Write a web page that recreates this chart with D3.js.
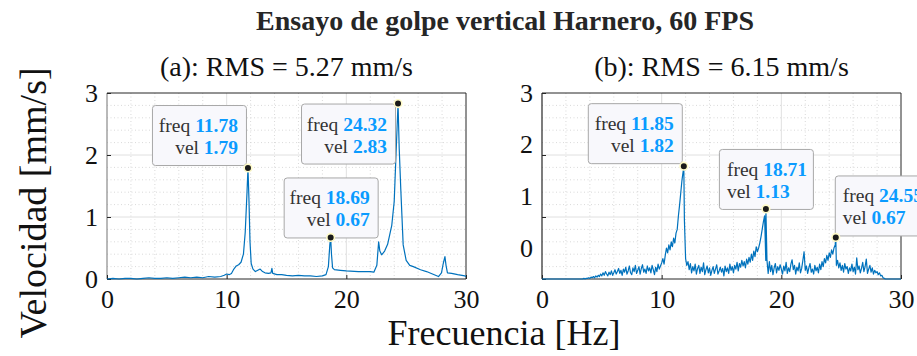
<!DOCTYPE html>
<html>
<head>
<meta charset="utf-8">
<script src="https://cdn.jsdelivr.net/npm/d3@7"></script>
<style>
  body { margin: 0; background: #fff; }
  svg { display: block; }
  svg text { font-family: "Liberation Serif", "Times New Roman", serif !important; }
</style>
</head>
<body>
<svg id="chart" width="917" height="356"></svg>
<script>
// ---------- texts ----------
const titleText = "Ensayo de golpe vertical Harnero, 60 FPS";
const subtitles = ["(a): RMS = 5.27 mm/s", "(b): RMS = 6.15 mm/s"];
const xLabelText = "Frecuencia [Hz]";
const yLabelText = "Velocidad [mm/s]";
const xTickValues = [0, 10, 20, 30];
const yTickValues = [0, 1, 2, 3];
const yTickLabels = ["0", "1", "2", "3"];

// ---------- (a) spectrum: frequency [Hz] / velocity [mm/s] ----------
const freqA = [0, 0.5, 1.0, 1.5, 2.0, 2.5, 3.0, 3.5, 4.0, 4.5, 5.0, 5.5, 6.0, 6.5, 7.0, 7.5, 8.0, 8.5, 9.0, 9.5,
  9.8, 10.0, 10.2, 10.4, 10.6, 10.8, 11.0, 11.2, 11.4, 11.55, 11.7, 11.86, 11.95, 12.05, 12.2, 12.4, 12.6, 12.8,
  13.0, 13.2, 13.5, 13.7, 13.78, 13.85, 14.2, 14.6, 15.0, 15.5, 16.0, 16.5, 17.0, 17.5, 18.0, 18.3, 18.5, 18.62,
  18.76, 18.85, 19.0, 19.5, 20.0, 21.0, 22.0, 22.3, 22.55, 22.7, 22.8, 22.95, 23.2, 23.45, 23.8, 24.0, 24.15,
  24.42, 24.55, 24.75, 25.0, 25.3, 25.6, 26.2, 26.7, 27.2, 27.7, 27.95, 28.1, 28.24, 28.33, 28.45, 28.8, 29.3, 29.9, 30.0];
const velA = [0.00, 0.01, 0.00, 0.01, 0.01, 0.00, 0.01, 0.02, 0.01, 0.01, 0.02, 0.01, 0.02, 0.03, 0.02, 0.03, 0.02, 0.04, 0.03, 0.04,
  0.06, 0.08, 0.07, 0.09, 0.16, 0.21, 0.23, 0.27, 0.40, 0.75, 1.40, 1.30, 0.60, 0.25, 0.16, 0.12, 0.14, 0.16,
  0.12, 0.10, 0.09, 0.10, 0.17, 0.09, 0.07, 0.07, 0.06, 0.05, 0.06, 0.05, 0.05, 0.04, 0.05, 0.07, 0.20, 0.55,
  0.40, 0.18, 0.15, 0.14, 0.13, 0.12, 0.12, 0.11, 0.22, 0.60, 0.45, 0.39, 0.45, 0.56, 0.87, 1.25, 2.00,
  2.10, 1.45, 0.55, 0.30, 0.22, 0.20, 0.15, 0.12, 0.08, 0.04, 0.10, 0.25, 0.36, 0.22, 0.10, 0.09, 0.07, 0.05, 0.04];

// ---------- (b) spectrum: one value per 0.1 Hz bin, 0 .. 30 Hz ----------
const binStepB = 0.1;
const velB = [
  0, 0, 0, 0, 0, 0, 0, 0, 0, 0,
  0, 0, 0, 0, 0, 0, 0, 0, 0, 0,
  0, 0, 0, 0, 0, 0, 0, 0, 0, 0,
  0, 0, 0, 0, 0, 0.01, 0, 0.01, 0.01, 0.02,
  0.01, 0.03, 0.02, 0.04, 0.02, 0.05, 0.03, 0.06, 0.04, 0.08,
  0.05, 0.10, 0.06, 0.12, 0.08, 0.05, 0.11, 0.07, 0.13, 0.06,
  0.10, 0.15, 0.08, 0.12, 0.17, 0.09, 0.14, 0.06, 0.16, 0.11,
  0.19, 0.08, 0.13, 0.21, 0.10, 0.07, 0.18, 0.12, 0.22, 0.09,
  0.14, 0.20, 0.08, 0.17, 0.23, 0.11, 0.16, 0.09, 0.21, 0.13,
  0.18, 0.10, 0.22, 0.15, 0.07, 0.19, 0.12, 0.24, 0.16, 0.21,
  0.26, 0.33, 0.24, 0.38, 0.50, 0.42, 0.55, 0.47, 0.60, 0.52,
  0.66, 0.58, 0.74, 0.80, 1.02, 1.20, 1.40, 1.60, 1.74, 0.95,
  0.33, 0.22, 0.28, 0.15, 0.25, 0.10, 0.20, 0.13, 0.24, 0.08,
  0.17, 0.22, 0.09, 0.19, 0.12, 0.26, 0.07, 0.15, 0.21, 0.10,
  0.18, 0.06, 0.14, 0.20, 0.09, 0.16, 0.23, 0.08, 0.13, 0.19,
  0.11, 0.17, 0.05, 0.21, 0.12, 0.18, 0.09, 0.24, 0.14, 0.20,
  0.10, 0.22, 0.16, 0.27, 0.13, 0.25, 0.19, 0.30, 0.21, 0.28,
  0.18, 0.32, 0.24, 0.35, 0.27, 0.40, 0.30, 0.45, 0.36, 0.52,
  0.44, 0.50, 0.58, 0.68, 0.80, 0.92, 1.02, 0.30, 0.30, 0.09,
  0.28, 0.12, 0.22, 0.07, 0.18, 0.25, 0.10, 0.20, 0.14, 0.23,
  0.16, 0.08, 0.21, 0.13, 0.27, 0.09, 0.18, 0.12, 0.24, 0.31,
  0.15, 0.22, 0.08, 0.19, 0.13, 0.26, 0.10, 0.17, 0.30, 0.44,
  0.14, 0.21, 0.09, 0.18, 0.25, 0.11, 0.16, 0.08, 0.22, 0.13,
  0.19, 0.10, 0.24, 0.15, 0.28, 0.20, 0.33, 0.26, 0.38, 0.30,
  0.42, 0.35, 0.47, 0.40, 0.50, 0.55, 0.22, 0.30, 0.18, 0.26,
  0.14, 0.22, 0.11, 0.25, 0.16, 0.20, 0.09, 0.18, 0.13, 0.24,
  0.12, 0.19, 0.08, 0.34, 0.15, 0.21, 0.10, 0.17, 0.27, 0.12,
  0.20, 0.32, 0.09, 0.16, 0.22, 0.11, 0.18, 0.08, 0.14, 0.10,
  0.12, 0.07, 0.10, 0.05, 0.06, 0.02, 0.01, 0, 0, 0,
  0, 0, 0, 0, 0, 0, 0, 0, 0, 0,
  0
];

// ---------- peak data tips ----------
const tipFreqA = [11.78, 18.69, 24.32];
const tipVelA  = [1.79, 0.67, 2.83];
const tipFreqB = [11.85, 18.71, 24.55];
const tipVelB  = [1.82, 1.13, 0.67];

// ---------- layout & style ----------
const serif = "'Liberation Serif', 'Times New Roman', serif";
const plotTop = 93, plotBottom = 279;
const panels = [
  { left: 107, right: 466, freq: freqA, vel: velA, tipF: tipFreqA, tipV: tipVelA,
    tipPlace: ["nw", "n", "w"], tipAlign: ["end", "end", "end"], labelFloor: 0, yAxisColor: "#8a8a8a" },
  { left: 542, right: 901, freq: velB.map((_, i) => +(i * binStepB).toFixed(2)), vel: velB,
    tipF: tipFreqB, tipV: tipVelB,
    tipPlace: ["nw", "n", "ne"], tipAlign: ["end", "start", "start"], labelFloor: 0.5, yAxisColor: "#262626" }
];
const lineColor = "#0072bd";
const axisColor = "#262626";
const tipValueColor = "#0a9bff";
const tipBoxW = 94, tipBoxH = 60;

const svg = d3.select("#chart");

svg.append("text")
  .attr("x", 505).attr("y", 30)
  .attr("text-anchor", "middle")
  .style("font-family", serif)
  .attr("font-size", 28).attr("font-weight", "bold")
  .attr("fill", axisColor)
  .text(titleText);

panels.forEach((p, pi) => {
  const x = d3.scaleLinear().domain([0, 30]).range([p.left, p.right]);
  const y = d3.scaleLinear().domain([0, 3]).range([plotBottom, plotTop]);
  const g = svg.append("g");

  // subtitle
  g.append("text")
    .attr("x", (p.left + p.right) / 2).attr("y", 76)
    .attr("text-anchor", "middle")
    .style("font-family", serif)
    .attr("font-size", 28).attr("fill", "#111")
    .text(subtitles[pi]);

  // minor grid
  const minorX = x.ticks(15).filter(v => !xTickValues.includes(v));
  const minorY = y.ticks(15).filter(v => !yTickValues.includes(v));
  g.selectAll(".mgx").data(minorX).join("line")
    .attr("x1", d => x(d)).attr("x2", d => x(d))
    .attr("y1", plotTop).attr("y2", plotBottom)
    .attr("stroke", "#cfcfcf").attr("stroke-width", 0.8).attr("stroke-dasharray", "1,2.5");
  g.selectAll(".mgy").data(minorY).join("line")
    .attr("x1", p.left).attr("x2", p.right)
    .attr("y1", d => y(d)).attr("y2", d => y(d))
    .attr("stroke", "#cfcfcf").attr("stroke-width", 0.8).attr("stroke-dasharray", "1,2.5");

  // major grid
  g.selectAll(".gx").data(xTickValues.slice(1, -1)).join("line")
    .attr("x1", d => x(d)).attr("x2", d => x(d))
    .attr("y1", plotTop).attr("y2", plotBottom)
    .attr("stroke", "#e0e0e0").attr("stroke-width", 1);
  g.selectAll(".gy").data(yTickValues.slice(1, -1)).join("line")
    .attr("x1", p.left).attr("x2", p.right)
    .attr("y1", d => y(d)).attr("y2", d => y(d))
    .attr("stroke", "#e0e0e0").attr("stroke-width", 1);

  // box
  g.append("line").attr("x1", p.left).attr("x2", p.right).attr("y1", plotTop).attr("y2", plotTop)
    .attr("stroke", axisColor).attr("stroke-width", 1);
  g.append("line").attr("x1", p.right).attr("x2", p.right).attr("y1", plotTop).attr("y2", plotBottom)
    .attr("stroke", axisColor).attr("stroke-width", 1);
  g.append("line").attr("x1", p.left).attr("x2", p.left).attr("y1", plotTop).attr("y2", plotBottom)
    .attr("stroke", p.yAxisColor).attr("stroke-width", 1.2);
  g.append("line").attr("x1", p.left).attr("x2", p.right).attr("y1", plotBottom).attr("y2", plotBottom)
    .attr("stroke", axisColor).attr("stroke-width", 1);

  // x axis (ticks inward)
  const xAxis = d3.axisBottom(x).tickValues(xTickValues).tickSize(-4).tickPadding(11).tickFormat(d3.format("d"));
  const gx = g.append("g").attr("transform", `translate(0,${plotBottom})`).call(xAxis);
  gx.select(".domain").remove();
  gx.selectAll(".tick line").attr("stroke", axisColor);
  gx.selectAll(".tick text").attr("font-size", 26).attr("fill", "#111")
    .style("font-family", serif);

  // y tick marks (inward) on the data scale
  const yMarks = d3.axisLeft(y).tickValues(yTickValues).tickSize(-4).tickFormat("");
  const gyM = g.append("g").attr("transform", `translate(${p.left},0)`).call(yMarks);
  gyM.select(".domain").remove();
  gyM.selectAll(".tick line").attr("stroke", axisColor);

  // y tick labels
  const yLab = d3.scaleLinear().domain([0, 3]).range([y(p.labelFloor), y(3)]);
  const yLabels = d3.axisLeft(yLab).tickValues(yTickValues).tickSize(0).tickPadding(9)
    .tickFormat((d, i) => yTickLabels[i]);
  const gyL = g.append("g").attr("transform", `translate(${p.left},0)`).call(yLabels);
  gyL.select(".domain").remove();
  gyL.selectAll(".tick text").attr("font-size", 26).attr("fill", "#111")
    .style("font-family", serif);

  // spectrum line, tip points merged in
  const pts = p.freq.map((f, i) => ({ f, v: p.vel[i] }));
  p.tipF.forEach((f, i) => {
    if (!pts.some(d => Math.abs(d.f - f) < 1e-6)) pts.push({ f, v: p.tipV[i] });
  });
  pts.sort((a, b) => a.f - b.f);

  const clipId = "clip" + pi;
  svg.append("clipPath").attr("id", clipId).append("rect")
    .attr("x", p.left).attr("y", plotTop - 1)
    .attr("width", p.right - p.left).attr("height", plotBottom - plotTop + 2);

  g.append("path")
    .datum(pts)
    .attr("clip-path", `url(#${clipId})`)
    .attr("fill", "none")
    .attr("stroke", lineColor)
    .attr("stroke-width", 1.2)
    .attr("stroke-linejoin", "round")
    .attr("d", d3.line().x(d => x(d.f)).y(d => y(d.v)));

  // data tips
  p.tipF.forEach((f, i) => {
    const mx = x(f), my = y(p.tipV[i]);
    let bx, by;
    switch (p.tipPlace[i]) {
      case "nw": bx = mx - 2 - tipBoxW; by = my - 3 - tipBoxH; break;
      case "n":  bx = mx - tipBoxW / 2; by = my - tipBoxH; break;
      case "w":  bx = mx - 3 - tipBoxW; by = my; break;
      case "ne": bx = mx - 1; by = my - 2 - tipBoxH; break;
    }
    const tg = svg.append("g");
    tg.append("rect")
      .attr("x", bx + 0.5).attr("y", by + 0.5)
      .attr("width", tipBoxW).attr("height", tipBoxH)
      .attr("rx", 3).attr("ry", 3)
      .attr("fill", "#f8f8fc").attr("stroke", "#a8a8a8").attr("stroke-width", 1);
    const anchor = p.tipAlign[i];
    const tx = anchor === "end" ? bx + tipBoxW - 8 : bx + 8;
    const lines = [["freq ", d3.format(".2f")(f)], ["vel ", d3.format(".2f")(p.tipV[i])]];
    lines.forEach((ln, k) => {
      const t = tg.append("text")
        .attr("x", tx).attr("y", by + 27 + k * 22)
        .attr("text-anchor", anchor)
        .style("font-family", serif)
        .attr("font-size", 19.5);
      t.append("tspan").attr("fill", "#333").text(ln[0]);
      t.append("tspan").attr("fill", tipValueColor).attr("font-weight", "bold").text(ln[1]);
    });
    tg.append("circle")
      .attr("cx", mx).attr("cy", my).attr("r", 3.8)
      .attr("fill", "#1a1a1a").attr("stroke", "#fffbc8").attr("stroke-width", 1.6);
  });
});

// shared axis labels
svg.append("text")
  .attr("x", 504).attr("y", 345)
  .attr("text-anchor", "middle")
  .style("font-family", serif)
  .attr("font-size", 36).attr("fill", "#111")
  .text(xLabelText);

svg.append("text")
  .attr("transform", `translate(46,203) rotate(-90)`)
  .attr("text-anchor", "middle")
  .style("font-family", serif)
  .attr("font-size", 38).attr("fill", "#111")
  .text(yLabelText);
</script>
</body>
</html>
